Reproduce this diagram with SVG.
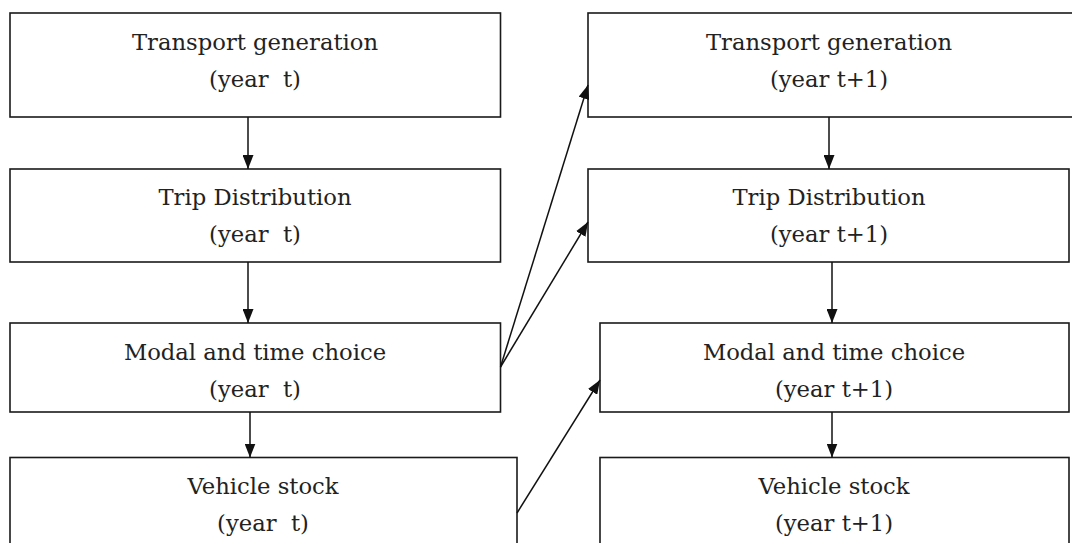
<svg xmlns="http://www.w3.org/2000/svg" width="1072" height="543" viewBox="0 0 1072 543">
<style>
.box{fill:#fff;stroke:#1a1a1a;stroke-width:1.6}
.t{font-family:"DejaVu Serif","Liberation Serif",serif;font-size:22.7px;fill:#222;text-anchor:middle}
.c{stroke:#111;stroke-width:1.5;fill:none;marker-end:url(#ah)}
</style>
<defs>
<marker id="ah" viewBox="0 0 14 11" refX="14" refY="5.5" markerWidth="14" markerHeight="11" markerUnits="userSpaceOnUse" orient="auto">
<path d="M0,0 L14,5.5 L0,11 Z" fill="#111"/>
</marker>
</defs>
<rect width="1072" height="543" fill="#fff"/>
<g id="tg_t"><rect class="box" x="10" y="13" width="490.5" height="104"/><text class="t" x="255" y="50">Transport generation</text><text class="t" x="255" y="87">(year&#160; t)</text></g>
<g id="td_t"><rect class="box" x="10" y="169" width="490.5" height="93"/><text class="t" x="255" y="205">Trip Distribution</text><text class="t" x="255" y="242">(year&#160; t)</text></g>
<g id="mc_t"><rect class="box" x="10" y="323" width="490.5" height="89"/><text class="t" x="255" y="360">Modal and time choice</text><text class="t" x="255" y="397">(year&#160; t)</text></g>
<g id="vs_t"><rect class="box" x="10" y="457.5" width="507" height="100"/><text class="t" x="263" y="494">Vehicle stock</text><text class="t" x="263" y="531">(year&#160; t)</text></g>
<g id="tg_t1"><rect class="box" x="588" y="13" width="500" height="104"/><text class="t" x="829" y="50">Transport generation</text><text class="t" x="829" y="87">(year t+1)</text></g>
<g id="td_t1"><rect class="box" x="588" y="169" width="481" height="93"/><text class="t" x="829" y="205">Trip Distribution</text><text class="t" x="829" y="242">(year t+1)</text></g>
<g id="mc_t1"><rect class="box" x="600" y="323" width="469" height="89"/><text class="t" x="834" y="360">Modal and time choice</text><text class="t" x="834" y="397">(year t+1)</text></g>
<g id="vs_t1"><rect class="box" x="600" y="457.5" width="469" height="100"/><text class="t" x="834" y="494">Vehicle stock</text><text class="t" x="834" y="531">(year t+1)</text></g>
<g id="connectors">
<line class="c" x1="248" y1="117" x2="248" y2="169"/>
<line class="c" x1="248" y1="262" x2="248" y2="323"/>
<line class="c" x1="250" y1="412" x2="250" y2="457.5"/>
<line class="c" x1="829" y1="117" x2="829" y2="169"/>
<line class="c" x1="832" y1="262" x2="832" y2="323"/>
<line class="c" x1="832" y1="412" x2="832" y2="457.5"/>
<line class="c" x1="500.5" y1="367" x2="588" y2="85"/>
<line class="c" x1="500.5" y1="367" x2="588" y2="222"/>
<line class="c" x1="517" y1="513" x2="600" y2="380"/>
</g>
</svg>
